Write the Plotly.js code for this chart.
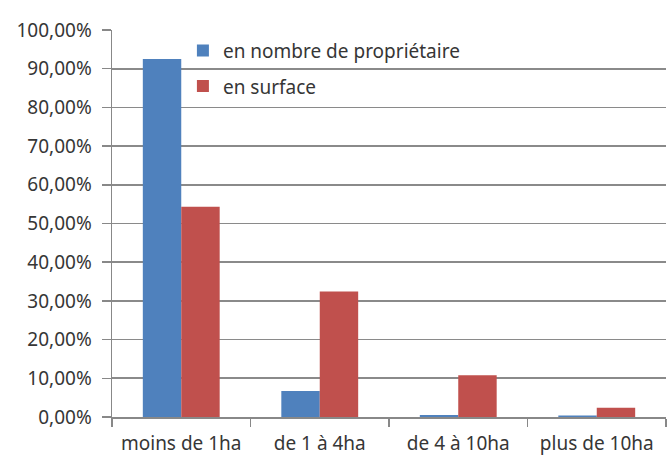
<!DOCTYPE html>
<html>
<head>
<meta charset="utf-8">
<script src="https://cdn.plot.ly/plotly-3.0.1.min.js"></script>
<style>html,body{margin:0;padding:0;background:#fff;}#chart{width:667px;height:457px;}</style>
</head>
<body>
<div id="chart"></div>
<script>
const categories = ["moins de 1ha", "de 1 à 4ha", "de 4 à 10ha", "plus de 10ha"];
const seriesNames = ["en nombre de propriétaire", "en surface"];
const nombreValues = [92.5, 6.7, 0.5, 0.4];
const surfaceValues = [54.3, 32.4, 10.8, 2.4];
const yTickValues = [0, 10, 20, 30, 40, 50, 60, 70, 80, 90, 100];
const yTickLabels = yTickValues.map(v => v.toFixed(2).replace(".", ",") + "%");

const fontFamily = "'Noto Sans', 'Open Sans', sans-serif";
const textColor = "#363636";
const fs = 19;

const traces = [
  {type: "bar", x: categories, y: nombreValues, name: seriesNames[0],
   marker: {color: "#4F81BD"}, legendgroup: "a", hoverinfo: "skip"},
  {type: "bar", x: categories, y: surfaceValues, name: seriesNames[1],
   marker: {color: "#C0504D"}, legendgroup: "b", hoverinfo: "skip"}
];

const layout = {
  width: 667, height: 457,
  margin: {l: 112, r: 1, t: 30, b: 40, pad: 0},
  paper_bgcolor: "#fff", plot_bgcolor: "#fff",
  barmode: "group", bargap: 0.445, bargroupgap: 0,
  font: {family: fontFamily, size: fs, color: textColor},
  showlegend: true,
  legend: {x: 0.128, y: 0.996, xanchor: "left", yanchor: "top",
           bgcolor: "rgba(0,0,0,0)", traceorder: "grouped", tracegroupgap: 8,
           font: {family: fontFamily, size: fs, color: textColor},
           itemwidth: 30},
  xaxis: {type: "category", showgrid: false, showline: true, linecolor: "#888", linewidth: 1.5,
          ticks: "outside", tickson: "boundaries", ticklen: 8, tickcolor: "#888", tickwidth: 1.5,
          ticklabelstandoff: 9, automargin: false,
          tickfont: {family: fontFamily, size: fs, color: textColor}, fixedrange: true},
  yaxis: {range: [0, 100], tickvals: yTickValues, ticktext: yTickLabels,
          showgrid: true, gridcolor: "#8a8a8a", gridwidth: 1.6, zeroline: false,
          showline: true, linecolor: "#888", linewidth: 1.5,
          ticks: "outside", ticklen: 9, tickcolor: "#888", tickwidth: 1.5,
          ticklabelstandoff: 6, automargin: false,
          tickfont: {family: fontFamily, size: fs, color: textColor}, fixedrange: true}
};

Plotly.newPlot("chart", traces, layout, {displayModeBar: false, staticPlot: true});
</script>
</body>
</html>
